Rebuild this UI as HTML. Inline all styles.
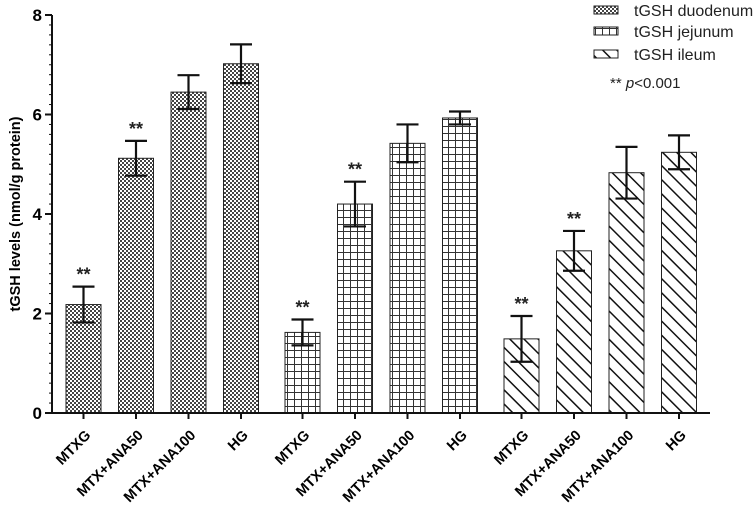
<!DOCTYPE html>
<html><head><meta charset="utf-8"><style>
body{margin:0;background:#fff}
svg{display:block;font-family:"Liberation Sans",Arial,sans-serif}
</style></head><body>
<svg id="chart" width="756" height="512" viewBox="0 0 756 512">
<defs>
<pattern id="pDuo" width="4" height="4" patternUnits="userSpaceOnUse"><rect width="4" height="4" fill="#fff"/><rect width="2" height="2" fill="#444"/><rect x="2" y="2" width="2" height="2" fill="#444"/></pattern>
<pattern id="pJej" width="7" height="7" patternUnits="userSpaceOnUse"><rect width="7" height="7" fill="#fff"/><path d="M0 0.5H7M0.5 0V7" stroke="#333" stroke-width="1"/></pattern>
<pattern id="pIle" width="10" height="10" patternUnits="userSpaceOnUse" patternTransform="rotate(-45)"><rect width="10" height="10" fill="#fff"/><line x1="0" y1="0" x2="0" y2="10" stroke="#111" stroke-width="3"/></pattern>
</defs>
<g id="plot"></g>
</svg>
<script>
const categories=["MTXG","MTX+ANA50","MTX+ANA100","HG"];
const seriesNames=["tGSH duodenum","tGSH jejunum","tGSH ileum"];
const duodenum=[2.18,5.12,6.45,7.02];
const jejunum=[1.62,4.20,5.42,5.93];
const ileum=[1.49,3.26,4.83,5.24];
const duodenumErr=[0.36,0.35,0.34,0.39];
const jejunumErr=[0.26,0.45,0.38,0.13];
const ileumErr=[0.46,0.40,0.52,0.34];
const significant=[true,true,false,false];
const yTicks=[0,2,4,6,8];

const NS="http://www.w3.org/2000/svg";
const g=document.getElementById('plot');
const y0=413,yTop=15,yMax=8;
const y=v=>y0-(v/yMax)*(y0-yTop);
const x=(grp,i)=>83.5+grp*(4*52.5+9)+i*52.5;
const bw=35;
function el(t,a){const e=document.createElementNS(NS,t);for(const k in a)e.setAttribute(k,a[k]);g.appendChild(e);return e;}

const series=[duodenum,jejunum,ileum];
const errs=[duodenumErr,jejunumErr,ileumErr];
const fills=["url(#pDuo)","url(#pJej)","url(#pIle)"];
for(let s=0;s<3;s++){
  for(let i=0;i<categories.length;i++){
    const cx=x(s,i),v=series[s][i],e=errs[s][i];
    const r=el('rect',{x:cx-bw/2,y:y(v),width:bw,height:y0-y(v),fill:fills[s],stroke:'#222','stroke-width':1});
    
    
    const eb=el('path',{d:`M${cx} ${y(v-e)}V${y(v+e)}M${cx-11} ${y(v+e)}H${cx+11}M${cx-11} ${y(v-e)}H${cx+11}`,stroke:'#111','stroke-width':2.2,fill:'none'});
    
    
    if(significant[i]){
      const st=el('text',{x:cx,y:y(v+e)-6,'text-anchor':'middle','font-size':18,'font-weight':'bold',fill:'#222'});
      st.textContent='**';
      
      
    }
    const tk=el('line',{x1:cx,x2:cx,y1:y0,y2:y0+6,stroke:'#111','stroke-width':2});
    
    
    const lb=el('text',{transform:`translate(${cx+8},${y0+23}) rotate(-45)`,'text-anchor':'end','font-size':14.5,'font-weight':'bold'});
    lb.textContent=categories[i];
    
    
  }
}
const ya=el('line',{x1:52,x2:52,y1:yTop,y2:y0+1,stroke:'#111','stroke-width':2});


const xa=el('line',{x1:51,x2:710,y1:y0,y2:y0,stroke:'#111','stroke-width':2});


for(let v=0;v<=yMax+0.001;v+=0.2){
  const m=el('line',{x1:49,x2:52,y1:y(v),y2:y(v),stroke:'#111','stroke-width':1});
  
  
}
yTicks.forEach(t=>{
  const l=el('line',{x1:45,x2:52,y1:y(t),y2:y(t),stroke:'#111','stroke-width':2});
  
  
  const tx=el('text',{x:42,y:y(t)+6,'text-anchor':'end','font-size':17,'font-weight':'bold'});
  tx.textContent=t;
  
  
});
const yt=el('text',{transform:'translate(20,214) rotate(-90)','text-anchor':'middle','font-size':14.5,'font-weight':'bold'});
yt.textContent='tGSH levels (nmol/g protein)';


const ly=[10,31,54];
seriesNames.forEach((n,i)=>{
  const sw=el('rect',{x:594,y:ly[i]-4,width:24,height:8,fill:fills[i],stroke:'#222','stroke-width':1});
  
  
  const t=el('text',{x:634,y:ly[i]+6,'font-size':16,fill:'#222'});
  t.textContent=n;
  
  
});
const pn=el('text',{x:610,y:88,'font-size':15,fill:'#222'});
pn.innerHTML='** <tspan font-style="italic">p</tspan>&lt;0.001';


</script>
</body></html>
